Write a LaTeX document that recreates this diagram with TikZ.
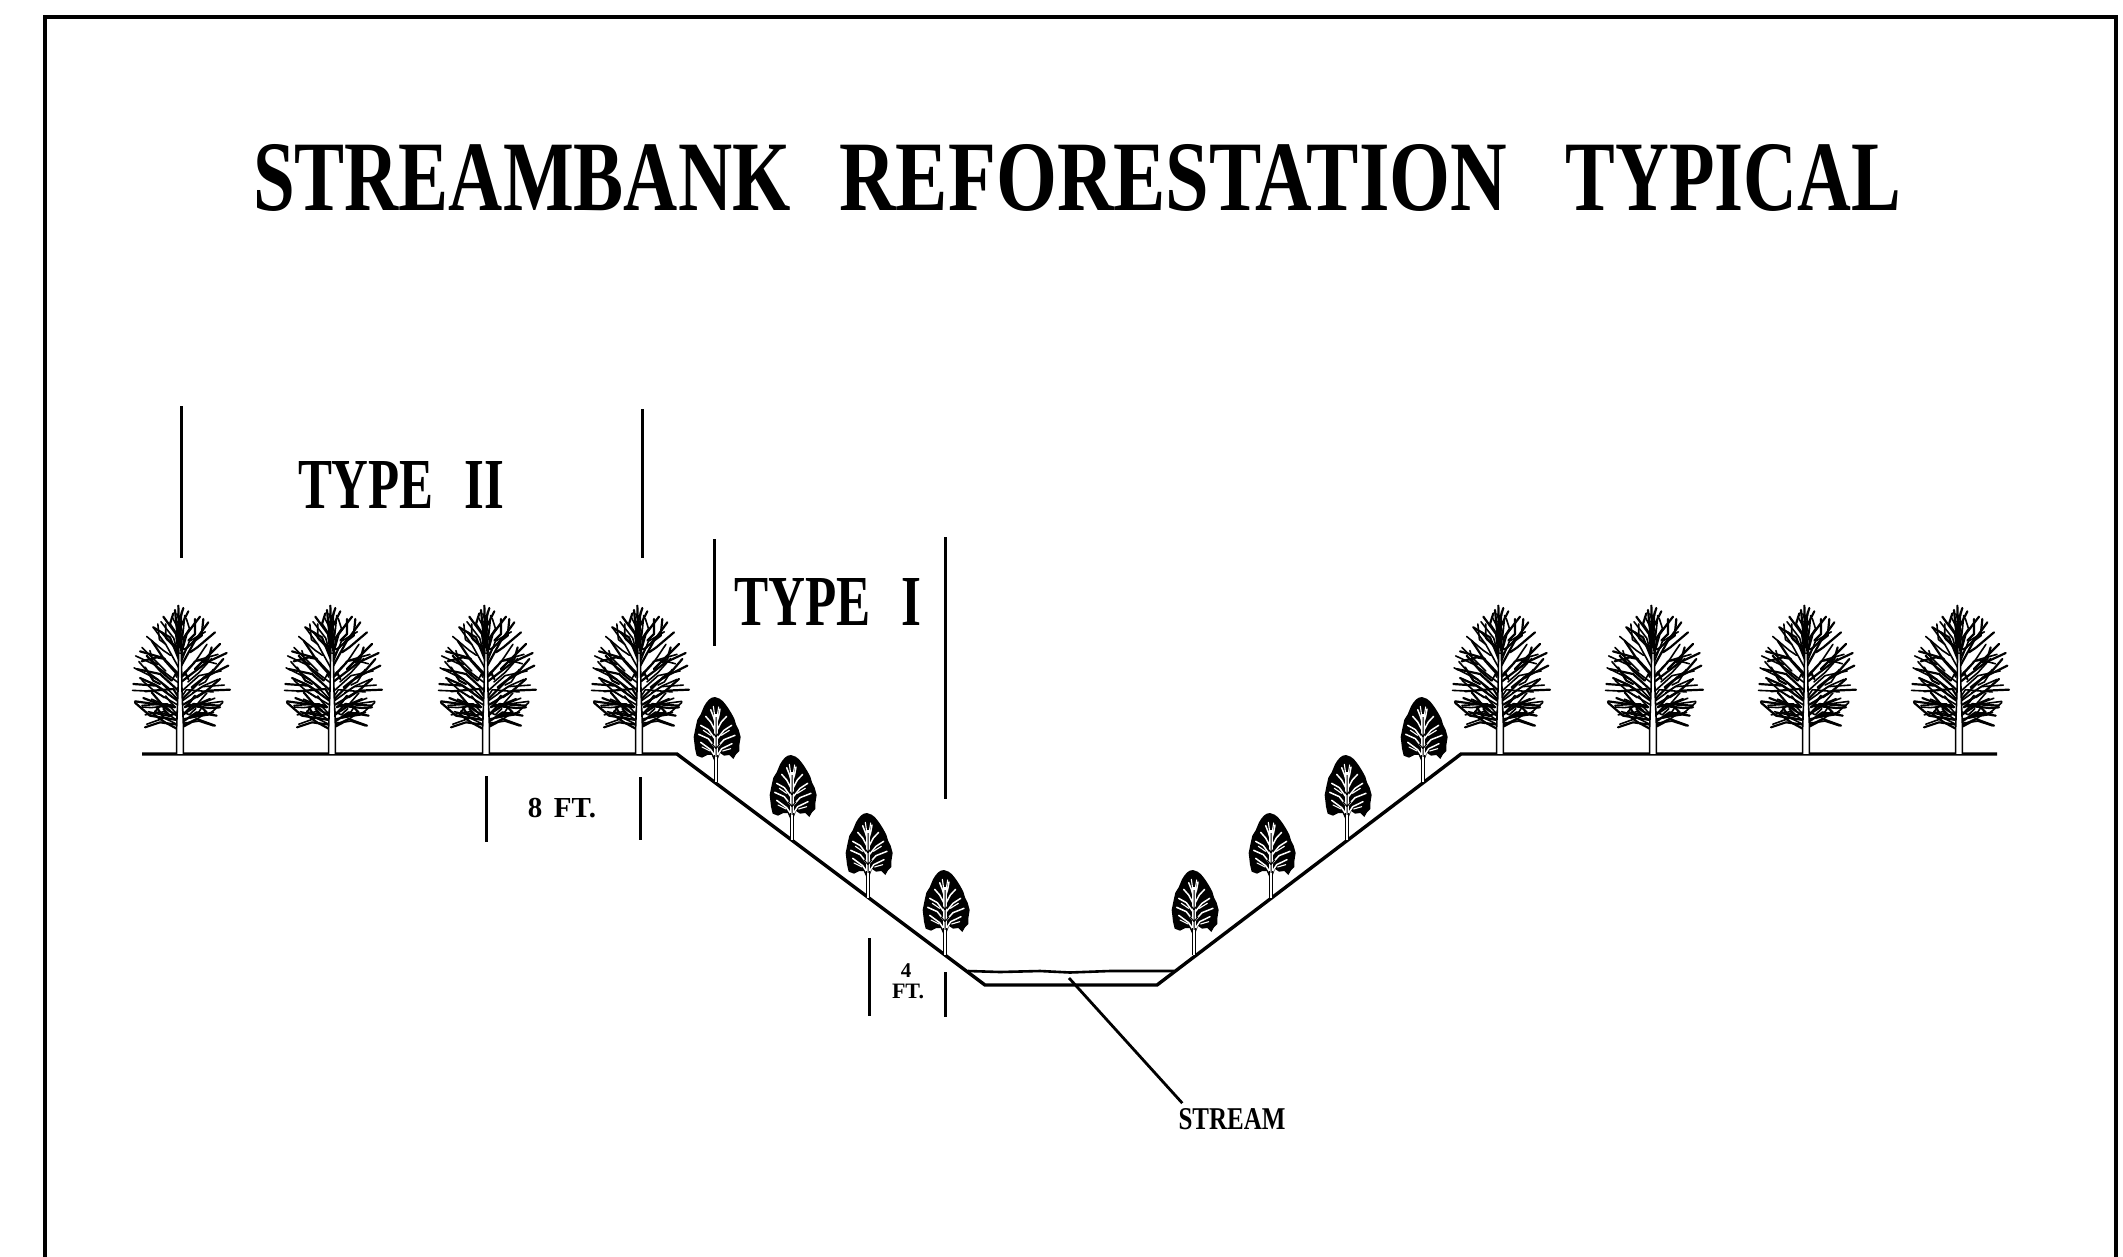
\documentclass[tikz,border=0pt]{standalone}
\usepackage{graphicx}
\usepackage{fontspec}
\setmainfont{Liberation Serif}
\usetikzlibrary{calc}
\newcommand{\treelimbs}{
        175/45/177/105/178/170, 165/58/170/110/176/150, 190/52/172/110/178/130,
        205/62/180/112/180/160, 130/78/168/130/176/190, 160/68/150/100/170/130,
        100/110/150/140/176/205, 125/125/160/165/176/190,
        240/78/200/130/182/195, 225/85/225/130/205/150, 265/95/225/150/184/225,
        250/85/245/135/225/150, 285/125/232/170/210/185,
        95/150/135/210/175/255, 60/182/130/202/175/250, 65/212/110/200/135/205,
        140/145/165/165/170/165,
        320/187/260/215/186/272, 300/160/250/210/225/235, 275/170/265/205/250/215,
        50/235/120/250/175/300, 75/230/100/270/120/280, 80/195/120/240/155/270,
        325/225/250/262/190/322, 310/205/280/240/250/262, 205/265/195/245/190/255,
        40/280/110/285/175/332, 75/302/160/295/176/320, 60/262/105/282/140/305,
        330/297/260/300/190/342, 300/265/260/300/230/320, 215/290/240/270/265/255,
        45/332/120/342/175/378, 70/322/130/345/165/350, 95/305/125/340/150/360,
        300/345/220/340/190/372, 270/325/235/340/200/345, 225/315/210/335/195/350,
        45/336/90/375/170/388, 110/350/130/380/150/385,
        75/410/120/395/172/402, 100/370/135/395/172/415,
        290/375/230/365/190/392, 285/405/230/385/190/405, 205/345/270/352/300/350,
        210/380/250/372/280/365, 240/345/260/365/215/375, 130/355/150/375/172/365}
\tikzset{
  x=1pt,y=-1pt,
  frameline/.style={line width=4.4pt,line cap=round,line join=miter},
  groundline/.style={line width=3.4pt,line join=miter},
  tickline/.style={line width=3pt},
  label/.style={inner sep=0pt,font=\bfseries},
  limb/.style={line width=2.2pt,line cap=round,line join=round},
  limbthin/.style={line width=1.6pt,line cap=round,line join=round},
  pics/bigtree/.style={code={
    \begin{scope}[x=0.3333pt,y=-0.3333pt,xshift=-60pt,yshift=163.33pt]
      \foreach \a/\b/\c/\d/\e/\f [expand list] in \treelimbs {
        \draw[limbthin] ({351-0.95*\a},{0.94*\b+20}) -- ({351-0.95*\c},{0.94*\d+20}) -- ({351-0.95*\e},{0.94*\f+20});
        \draw[limb] (\a,\b) -- (\c,\d) -- (\e,\f);
      }
      \fill[white] (171,490) -- (171,400) -- (175,300) -- (177,190) -- (183,190) -- (185,300) -- (189,400) -- (189,490) -- cycle;
      \draw[line width=1.6pt] (170,490) -- (170,410) -- (174,300) -- (176,170) -- (174,90);
      \draw[line width=1.6pt] (190,490) -- (190,400) -- (186,300) -- (184,170) -- (180,90);
    \end{scope}
  }},
  pics/smalltree/.style={code={
    \begin{scope}[x=0.3333pt,y=-0.3333pt,xshift=-36pt,yshift=101.67pt]
      \fill[black] (105,50) .. controls (125,52) and (140,75) .. (155,100)
        -- (163,115) -- (168,132) -- (176,148) -- (182,170) -- (178,195) -- (178,212)
        -- (168,222) -- (160,236) -- (148,224) -- (132,226) -- (120,218) -- (112,240)
        -- (102,240) -- (95,224) -- (82,224) -- (66,232) -- (50,226) -- (45,205)
        -- (41,170) -- (47,140) -- (52,118) -- (62,102) -- (72,78)
        .. controls (82,60) and (92,50) .. (105,50) -- cycle;
      \foreach \a/\b/\c/\d/\e/\f in {
        108/232/92/208/62/186, 108/205/85/175/56/162, 108/180/85/148/62/135,
        108/155/92/125/77/108, 108/135/100/108/92/88,
        108/232/125/205/156/190, 108/205/132/178/165/165, 108/180/132/150/155/135,
        108/155/124/125/140/108, 108/135/116/108/120/86}{
        \draw[white,line width=1.5pt,line cap=round] (\a,\b) -- (\c,\d) -- (\e,\f);
      }
      \draw[white,line width=1.1pt,line cap=round] (100,78) -- (104,105) (116,80) -- (112,105)
        (66,200) -- (90,212) (152,205) -- (128,212) (70,150) -- (92,165) (148,150) -- (124,165);
      \fill[white] (101,240) rectangle (115,100);
      \draw[line width=1pt] (108,235) -- (108,110)
        (108,205) -- (96,190) (108,205) -- (120,190) (108,170) -- (98,155) (108,170) -- (118,155);
      \fill[white] (102,305) rectangle (114,230);
      \draw[line width=1.3pt] (103,305) -- (103,225) (113,305) -- (113,225);
    \end{scope}
  }}
}
\begin{document}
\begin{tikzpicture}
\useasboundingbox (0,0) rectangle (2123,1256);
% frame
\draw[frameline] (45,1260) -- (45,17) -- (2116,17) -- (2116,1260);
% title
\node[label] (title) at (1077,178) {\resizebox{1647pt}{66pt}{\scalebox{0.957}[1]{STREAMBANK}\hspace{0.62em}REFORESTATION\hspace{0.75em}\scalebox{0.95}[1]{TYPICAL}}};
% profile
\coordinate (gl) at (142,754);
\coordinate (bl) at (677,754);
\coordinate (cl) at (985,985);
\coordinate (cr) at (1157,985);
\coordinate (br) at (1461,754);
\coordinate (gr) at (1997,754);
\draw[groundline] (gl) -- (bl) -- (cl) -- (cr) -- (br) -- (gr);
\coordinate (wl) at (968,971);
\coordinate (wr) at (1174,971);
\draw[line width=2.6pt] (wl) -- (1000,972) -- (1040,971) -- (1070,972.5) -- (1110,971) -- (wr);
% big trees
\foreach \tx in {180,332,486,639,1500,1653,1806,1959}{
  \pic at (\tx,754) {bigtree};
}
% small trees
\foreach \tx/\ty in {716/782,792/840,868/898,945/955,1194/955,1271/898,1347/840,1423/782}{
  \pic at (\tx,\ty) {smalltree};
}
% type ticks
\draw[tickline] (181,406) -- (181,558);
\draw[tickline] (642,409) -- (642,558);
\draw[tickline] (714,539) -- (714,646);
\draw[tickline] (945,537) -- (945,799);
\draw[tickline] (486,776) -- (486,842);
\draw[tickline] (640,777) -- (640,840);
\draw[tickline] (869,938) -- (869,1016);
\draw[tickline] (945,972) -- (945,1017);
% labels
\node[label] (typeii) at (401,485) {\resizebox{206pt}{47pt}{TYPE\hspace{0.6em}II}};
\node[label] (typei) at (828,602) {\resizebox{187pt}{47pt}{TYPE\hspace{0.6em}I}};
\node[label,font=\bfseries\fontsize{29}{29}\selectfont] (eightft) at (562,808) {8\hspace{0.4em}FT.};
\node[label,font=\bfseries\fontsize{21}{21}\selectfont] (fourn) at (906,971) {4};
\node[label,font=\bfseries\fontsize{22}{22}\selectfont] (fourft) at (908,991) {FT.};
\node[label] (stream) at (1232,1119) {\resizebox{107pt}{21pt}{STREAM}};
\coordinate (leaderstart) at (1069,978);
\coordinate (leaderend) at ($(stream.north west)+(4,-5)$);
\draw[line width=2.8pt] (leaderstart) -- (leaderend);
\end{tikzpicture}
\end{document}
